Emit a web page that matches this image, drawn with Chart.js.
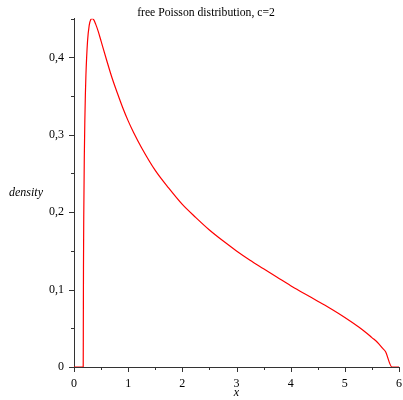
<!DOCTYPE html>
<html>
<head>
<meta charset="utf-8">
<script src="https://cdn.jsdelivr.net/npm/chart.js@4"></script>
<style>
  html, body { margin: 0; padding: 0; background: #fff; }
  #wrap { width: 403px; height: 400px; }
</style>
</head>
<body>
<div id="wrap"><canvas id="c" width="403" height="400"></canvas></div>
<script>
// Data
const xValues = [0, 0.17, 0.172, 0.175, 0.18, 0.19, 0.2, 0.21, 0.22, 0.25, 0.28, 0.31, 0.333, 0.36, 0.4, 0.45, 0.5, 0.6, 0.7, 0.8, 0.9, 1, 1.1, 1.25, 1.5, 1.75, 2, 2.25, 2.5, 2.75, 3, 3.25, 3.5, 3.75, 4, 4.25, 4.5, 4.75, 5, 5.25, 5.4, 5.5, 5.6, 5.7, 5.75, 5.87, 6];
const densityValues = [0, 0, 0.046, 0.127, 0.193, 0.270, 0.318, 0.352, 0.377, 0.421, 0.441, 0.449, 0.450, 0.449, 0.443, 0.433, 0.421, 0.397, 0.374, 0.354, 0.335, 0.318, 0.303, 0.283, 0.254, 0.231, 0.210, 0.193, 0.177, 0.163, 0.150, 0.138, 0.127, 0.116, 0.105, 0.095, 0.085, 0.075, 0.064, 0.052, 0.044, 0.038, 0.032, 0.024, 0.020, 0, 0];
const xTicks = [0, 0.5, 1, 1.5, 2, 2.5, 3, 3.5, 4, 4.5, 5, 5.5, 6];
const yTicks = [0, 0.05, 0.1, 0.15, 0.2, 0.25, 0.3, 0.35, 0.4, 0.45];
const titleText = 'free Poisson distribution, c=2';
const xTitle = 'x';
const yTitle = 'density';

const FONT = 'Liberation Serif';
const isMajor = (v, step) => Math.abs(v / step - Math.round(v / step)) < 1e-6;

const tickPlugin = {
  id: 'mapleTicks',
  afterDraw(chart) {
    const ctx = chart.ctx;
    const xs = chart.scales.x, ys = chart.scales.y;
    const ca = chart.chartArea;
    ctx.save();
    ctx.strokeStyle = '#333';
    ctx.lineWidth = 1;
    ctx.beginPath();
    yTicks.forEach(v => {
      const py = Math.round(ys.getPixelForValue(v)) + 0.5;
      const len = isMajor(v, 0.1) ? 5 : 3;
      ctx.moveTo(ca.left - len, py);
      ctx.lineTo(ca.left, py);
    });
    xTicks.forEach(v => {
      const px = Math.round(xs.getPixelForValue(v)) + 0.5;
      const len = isMajor(v, 1) ? 5 : 3;
      ctx.moveTo(px, ca.bottom);
      ctx.lineTo(px, ca.bottom + len);
    });
    ctx.stroke();
    ctx.fillStyle = '#000';
    ctx.font = 'italic 12px "' + FONT + '"';
    ctx.textAlign = 'center';
    ctx.textBaseline = 'middle';
    ctx.fillText(yTitle, ca.left - 48, (ca.top + ca.bottom) / 2);
    ctx.restore();
  }
};

new Chart(document.getElementById('c'), {
  type: 'scatter',
  data: {
    datasets: [{
      data: xValues.map((x, i) => ({ x: x, y: densityValues[i] })),
      showLine: true,
      borderColor: '#ff0000',
      borderWidth: 1.2,
      pointRadius: 0,
      cubicInterpolationMode: 'monotone',
      fill: false
    }]
  },
  options: {
    responsive: false,
    animation: false,
    devicePixelRatio: 1,
    layout: { padding: { left: 9, right: 0, top: 0, bottom: 0 } },
    plugins: {
      legend: { display: false },
      tooltip: { enabled: false },
      title: {
        display: true,
        text: titleText,
        color: '#000',
        font: { family: FONT, size: 11.7, weight: 'normal', lineHeight: 1 },
        padding: { top: 7, bottom: 0 }
      }
    },
    scales: {
      x: {
        type: 'linear',
        min: 0, max: 6,
        afterBuildTicks: s => { s.ticks = xTicks.map(v => ({ value: v })); },
        afterFit: s => { s.height = 33; },
        grid: { display: false, drawTicks: true, tickLength: 9 },
        border: { display: true, color: '#333', width: 1 },
        ticks: {
          autoSkip: false, maxRotation: 0, padding: 1, color: '#000',
          font: { family: FONT, size: 12 },
          callback: v => isMajor(v, 1) ? String(Math.round(v)) : ''
        },
        title: {
          display: true, text: xTitle, color: '#000',
          font: { family: FONT, size: 12, style: 'italic' },
          padding: { top: 0, bottom: 0 }
        }
      },
      y: {
        type: 'linear',
        min: 0, max: 0.45,
        afterBuildTicks: s => { s.ticks = yTicks.map(v => ({ value: v })); },
        afterFit: s => { s.width = 65; },
        grid: { display: false, drawTicks: true, tickLength: 5 },
        border: { display: true, color: '#333', width: 1 },
        ticks: {
          autoSkip: false, padding: 5, color: '#000',
          font: { family: FONT, size: 12 },
          callback: v => isMajor(v, 0.1) ? (v === 0 ? '0' : (Math.round(v * 10) / 10).toFixed(1).replace('.', ',')) : ''
        }
      }
    }
  },
  plugins: [tickPlugin]
});
</script>
</body>
</html>
